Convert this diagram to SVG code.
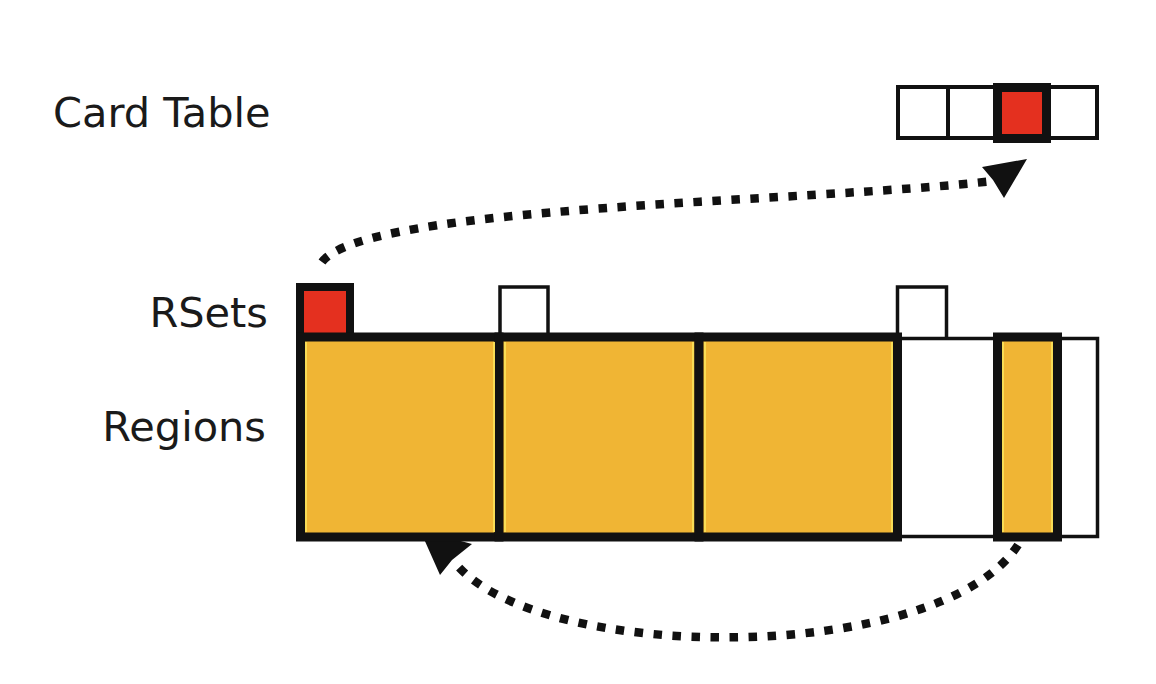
<svg xmlns="http://www.w3.org/2000/svg" width="1156" height="684" viewBox="0 0 1156 684">
<style>
.lbl{font-family:"DejaVu Sans","Liberation Sans",sans-serif;font-size:41.5px;fill:#1a1a1a}
.yel{fill:#f0b534;stroke:#111;stroke-width:9}
.wthin{fill:#fff;stroke:#111;stroke-width:3.5}
.wthick{fill:#fff;stroke:#111;stroke-width:4}
.red{fill:#e4301f;stroke:#111;stroke-width:8}
.dots{fill:none;stroke:#111;stroke-width:8.5;stroke-dasharray:8.5 10.5}
.head{fill:#111}
.hl{stroke:#f8dc55;stroke-width:2}
</style>
<rect width="1156" height="684" fill="#fff"/>
<g id="labels">
<text class="lbl" x="53" y="127">Card Table</text>
<text class="lbl" x="268" y="327" text-anchor="end">RSets</text>
<text class="lbl" x="266" y="441" text-anchor="end">Regions</text>
</g>
<g id="connectors">
<path class="dots" d="M322 262 C365 205 800 203 993 181"/>
<polygon class="head" points="1027,159 982,167 993,180 1004,198"/>
<path class="dots" d="M1018 545 C940 665 540 665 455 563"/>
<polygon class="head" points="420,530 440,575 452,560 472,544"/>
</g>
<g id="card-table">
<rect class="wthick" x="898" y="87" width="50" height="51"/>
<rect class="wthick" x="948" y="87" width="50" height="51"/>
<rect class="wthick" x="1048" y="87" width="49" height="51"/>
<rect class="red" x="997.5" y="87.5" width="49" height="51" style="stroke-width:9"/>
</g>
<g id="rsets">
<rect class="wthin" x="500" y="287" width="48" height="52"/>
<rect class="wthin" x="897.5" y="287" width="49" height="52"/>
<rect class="red" x="300" y="287" width="50" height="50"/>
</g>
<g id="regions">
<rect class="wthin" x="897" y="338.5" width="100" height="198"/>
<rect class="wthin" x="1058" y="338.5" width="39.5" height="198"/>
<rect class="yel" x="300.5" y="337" width="198.5" height="200"/>
<rect class="yel" x="499" y="337" width="200" height="200"/>
<rect class="yel" x="699" y="337" width="198.5" height="200"/>
<rect class="yel" x="997.5" y="337" width="60" height="200"/>
<line class="hl" x1="306" y1="342" x2="306" y2="532"/>
<line class="hl" x1="494" y1="342" x2="494" y2="532"/>
<line class="hl" x1="505" y1="342" x2="505" y2="532"/>
<line class="hl" x1="693" y1="342" x2="693" y2="532"/>
<line class="hl" x1="705" y1="342" x2="705" y2="532"/>
<line class="hl" x1="892" y1="342" x2="892" y2="532"/>
<line class="hl" x1="1003" y1="342" x2="1003" y2="532"/>
<line class="hl" x1="1052" y1="342" x2="1052" y2="532"/>
</g>
</svg>
